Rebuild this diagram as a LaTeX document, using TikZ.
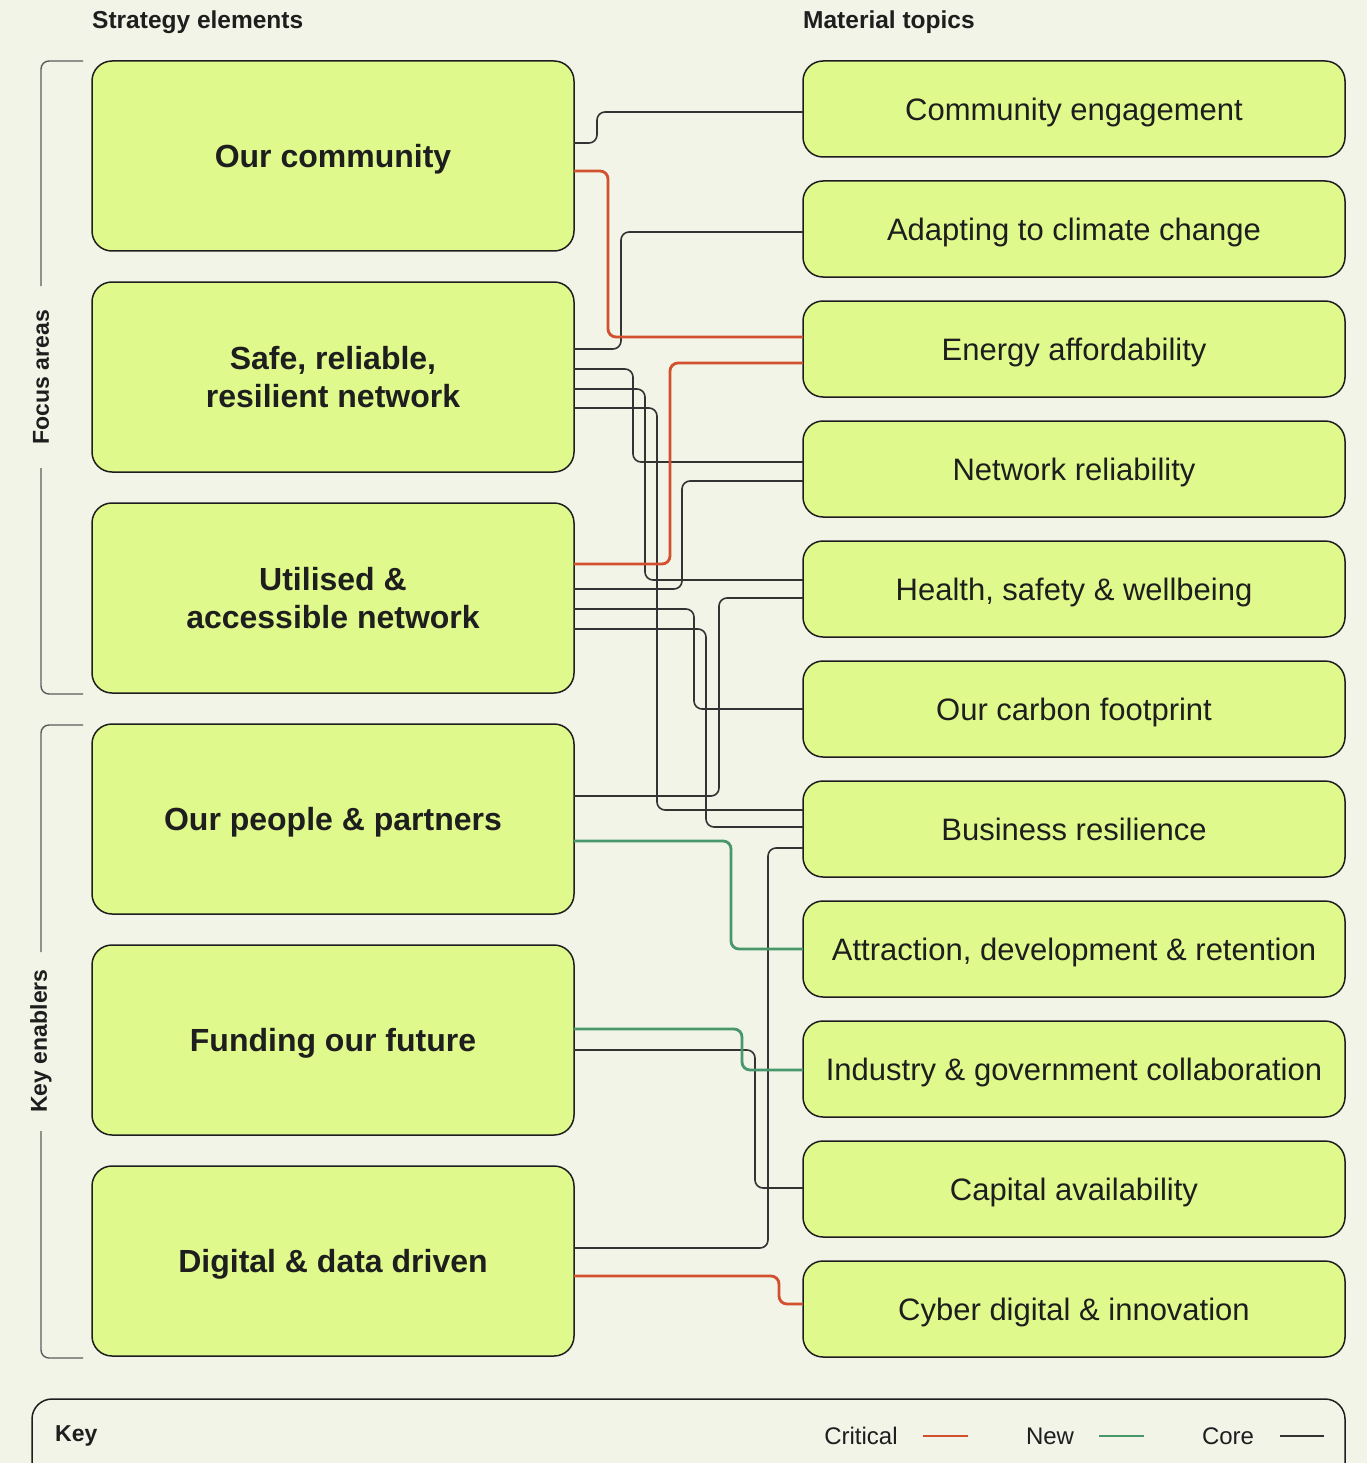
\documentclass[tikz,border=0pt]{standalone}
\usepackage{fontspec}
\setmainfont{Liberation Sans}
\usetikzlibrary{positioning,calc}

\definecolor{bgcol}{HTML}{F1F4E7}
\definecolor{boxfill}{HTML}{E0F98C}
\definecolor{inkcol}{HTML}{1E1E1E}
\definecolor{critred}{HTML}{D2502D}
\definecolor{newgreen}{HTML}{48976B}
\definecolor{coregray}{HTML}{333333}

\tikzset{
  lbox/.style={draw=inkcol, fill=boxfill, line width=1.5pt, rounded corners=20pt,
    minimum width=482pt, minimum height=190pt, inner sep=0pt, outer sep=0pt,
    text depth=-0.5pt, align=center, text=inkcol, font=\bfseries\fontsize{32}{38}\selectfont},
  rbox/.style={draw=inkcol, fill=boxfill, line width=1.5pt, rounded corners=20pt,
    minimum width=542pt, minimum height=96pt, inner sep=0pt, outer sep=0pt,
    text depth=-1pt, text=inkcol, font=\fontsize{31}{36}\selectfont},
  hdr/.style={anchor=west, inner sep=0pt, text=inkcol, font=\bfseries\fontsize{24.5}{28}\selectfont},
  sidelbl/.style={rotate=90, text=inkcol, font=\bfseries\fontsize{23}{28}\selectfont},
  keytxt/.style={inner sep=0pt, text=inkcol, font=\fontsize{24}{28}\selectfont},
  bracket/.style={draw=coregray!80, line width=1.4pt, rounded corners=8pt},
  corewire/.style={draw=coregray, line width=1.6pt, rounded corners=8pt},
  critwire/.style={draw=critred, line width=2.8pt, rounded corners=8pt},
  newwire/.style={draw=newgreen, line width=2.8pt, rounded corners=8pt}
}

% style, strategy node, offset from its top, x of the riser, topic node, offset from its top
\newcommand{\wire}[6]{%
  \coordinate (wa) at ($(#2.north east)+(0,#3)$);
  \coordinate (wb) at ($(#5.north west)+(0,#6)$);
  \draw[#1] (wa) -| (#4,0 |- wb) -- (wb);}

\begin{document}
\begin{tikzpicture}[x=1pt, y=-1pt]
\useasboundingbox[fill=bgcol] (0,0) rectangle (1367,1463);

\node[hdr] (strat) at (92,22) {Strategy elements};
\node[hdr] (mat) at (803,22) {Material topics};

% strategy elements
\node[lbox, anchor=north west] (comm) at (92,61) {Our community};
\node[lbox, below=31pt of comm] (safe) {Safe, reliable,\\resilient network};
\node[lbox, below=31pt of safe] (util) {Utilised \&\\accessible network};
\node[lbox, below=31pt of util] (people) {Our people \& partners};
\node[lbox, below=31pt of people] (fund) {Funding our future};
\node[lbox, below=31pt of fund] (digital) {Digital \& data driven};

% material topics
\node[rbox, anchor=north west] (engage) at (803,61) {Community engagement};
\node[rbox, below=24pt of engage] (adapt) {Adapting to climate change};
\node[rbox, below=24pt of adapt] (energy) {Energy affordability};
\node[rbox, below=24pt of energy] (netrel) {Network reliability};
\node[rbox, below=24pt of netrel] (health) {Health, safety \& wellbeing};
\node[rbox, below=24pt of health] (carbon) {Our carbon footprint};
\node[rbox, below=24pt of carbon] (busres) {Business resilience};
\node[rbox, below=24pt of busres] (attract) {Attraction, development \& retention};
\node[rbox, below=24pt of attract] (industry) {Industry \& government collaboration};
\node[rbox, below=24pt of industry] (capital) {Capital availability};
\node[rbox, below=24pt of capital] (cyber) {Cyber digital \& innovation};

% side brackets
\node[sidelbl] (focus) at (41,377) {Focus areas};
\node[sidelbl] (enablers) at (41,1041) {Key enablers};
\draw[bracket] (83,61) -- (41,61) -- (41,286);
\draw[bracket] (41,468) -- (41,694) -- (83,694);
\draw[bracket] (83,725) -- (41,725) -- (41,952);
\draw[bracket] (41,1131) -- (41,1358) -- (83,1358);

% core links
\wire{corewire}{comm}{82}{597}{engage}{51}
\wire{corewire}{safe}{67}{621}{adapt}{51}
\wire{corewire}{safe}{87}{633}{netrel}{41}
\wire{corewire}{safe}{107}{645}{health}{39}
\wire{corewire}{safe}{126}{657}{busres}{29}
\wire{corewire}{util}{86}{682}{netrel}{60}
\wire{corewire}{util}{106}{694}{carbon}{48}
\wire{corewire}{util}{126}{706}{busres}{46}
\wire{corewire}{people}{72}{719}{health}{57}
\wire{corewire}{fund}{105}{755}{capital}{47}
\wire{corewire}{digital}{82}{768}{busres}{67}
% critical links
\wire{critwire}{comm}{110}{608}{energy}{36}
\wire{critwire}{util}{61}{670}{energy}{62}
\wire{critwire}{digital}{110}{779}{cyber}{43}
% new links
\wire{newwire}{people}{117}{731}{attract}{48}
\wire{newwire}{fund}{84}{742}{industry}{49}

% key
\draw[draw=inkcol, line width=1.5pt, rounded corners=20pt] (32,1399) rectangle (1345,1500);
\node[anchor=west, inner sep=0pt, text=inkcol, font=\bfseries\fontsize{23}{26}\selectfont] (keylbl) at (55,1436) {Key};
\node[keytxt] (critlbl) at (861,1436) {Critical};
\node[keytxt] (newlbl) at (1050,1436) {New};
\node[keytxt] (corelbl) at (1228,1436) {Core};
\draw[critwire] ([xshift=25pt]critlbl.east) -- ++(45,0);
\draw[newwire] ([xshift=25pt]newlbl.east) -- ++(45,0);
\draw[corewire] ([xshift=26pt]corelbl.east) -- ++(44,0);
\end{tikzpicture}
\end{document}
